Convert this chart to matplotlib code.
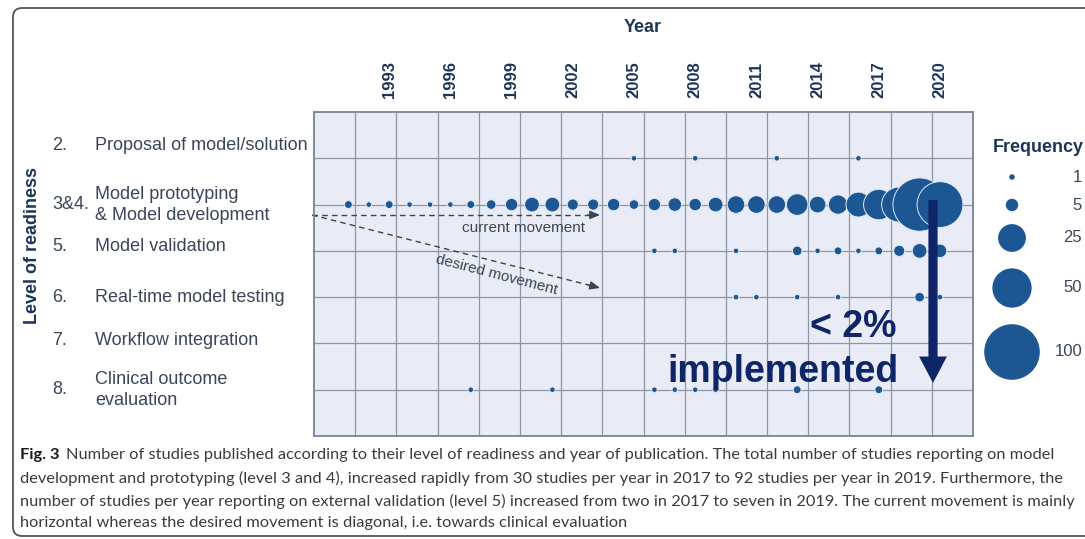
import numpy as np
import matplotlib
matplotlib.use('Agg')
import matplotlib.pyplot as plt
from matplotlib.patches import FancyBboxPatch
from matplotlib.transforms import blended_transform_factory

plt.rcParams['font.family'] = ['Liberation Sans', 'DejaVu Sans']

# ---- dados ----
niveis_num = ["2.", "3&4.", "5.", "6.", "7.", "8."]
niveis_txt = ["Proposal of model/solution",
              "Model prototyping\n& Model development",
              "Model validation",
              "Real-time model testing",
              "Workflow integration",
              "Clinical outcome\nevaluation"]

anos_n2 = [2005, 2008, 2012, 2016]
freq_n2 = [1, 1, 1, 1]

anos_n34 = list(range(1991, 2021))
freq_n34 = [2, 1, 2, 1, 1, 1, 2, 3, 5, 7, 7, 4, 4, 5, 3, 5, 6, 5, 7, 10,
            10, 10, 15, 9, 12, 20, 30, 40, 92, 68]

anos_n5 = [2006, 2007, 2010, 2013, 2014, 2015, 2016, 2017, 2018, 2019, 2020]
freq_n5 = [1, 1, 1, 3, 1, 2, 1, 2, 4, 7, 6]

anos_n6 = [2010, 2011, 2013, 2015, 2019, 2020]
freq_n6 = [1, 1, 1, 1, 3, 1]

anos_n7 = []
freq_n7 = []

anos_n8 = [1997, 2001, 2006, 2007, 2008, 2009, 2013, 2017]
freq_n8 = [1, 1, 1, 1, 1, 1, 2, 2]

anos_ticks = list(range(1993, 2021, 3))
legenda_freq = [1, 5, 25, 50, 100]

legenda_texto = [
    ("Fig. 3", "Number of studies published according to their level of readiness and year of publication. "
               "The total number of studies reporting on model"),
    (None, "development and prototyping (level 3 and 4), increased rapidly from 30 studies per year in 2017 "
           "to 92 studies per year in 2019. Furthermore, the"),
    (None, "number of studies per year reporting on external validation (level 5) increased from two in 2017 "
           "to seven in 2019. The current movement is mainly"),
    (None, "horizontal whereas the desired movement is diagonal, i.e. towards clinical evaluation"),
]

# ---- estilo ----
W, H = 1085, 539
AZUL = '#1c5793'
MARINHO = '#0e2667'
TXT = '#3a4658'
TITULO = '#1d3557'


def tamanho(n):
    # área proporcional à frequência
    return 16 * np.asarray(n, dtype=float)


fig = plt.figure(figsize=(W / 100, H / 100), dpi=100)
fig.patch.set_facecolor('white')

# eixo de sobreposição em pixels (moldura, legenda, rótulos)
ov = fig.add_axes([0, 0, 1, 1])
ov.set_xlim(0, W)
ov.set_ylim(H, 0)
ov.axis('off')
ov.patch.set_visible(False)
ov.set_zorder(0)

moldura = FancyBboxPatch((13, 8), 1200, 528, boxstyle='round,pad=0,rounding_size=9',
                         fc='none', ec='#555555', lw=1.3)
ov.add_patch(moldura)

# eixo principal
ax = fig.add_axes([314 / W, 1 - 436 / H, 659 / W, 324 / H])
ax.set_zorder(1)
ax.set_facecolor('#e9ecf6')
x0 = 2020 - (940 - 314) / 20.4
x1 = 2020 + (973 - 940) / 20.4
ax.set_xlim(x0, x1)
ax.set_ylim(7, 0)

ax.set_xticks(np.linspace(x0, x1, 17)[1:-1], minor=True)
ax.set_xticks(anos_ticks)
ax.set_xticklabels([str(a) for a in anos_ticks], rotation=90, fontsize=12,
                   fontweight='bold', color=TITULO)
ax.xaxis.tick_top()
ax.tick_params(axis='x', which='both', length=0, pad=10)
ax.set_yticks(range(1, 7))
ax.set_yticklabels([])
ax.tick_params(axis='y', length=0)
ax.grid(False)
ax.grid(which='minor', axis='x', color='#8d96a6', lw=0.9)
ax.grid(which='major', axis='y', color='#8d96a6', lw=0.9)
ax.set_axisbelow(True)
for sp in ax.spines.values():
    sp.set_color('#7a8494')
    sp.set_linewidth(1.3)

linhas = [(anos_n2, freq_n2), (anos_n34, freq_n34), (anos_n5, freq_n5),
          (anos_n6, freq_n6), (anos_n7, freq_n7), (anos_n8, freq_n8)]
for i, (anos, freq) in enumerate(linhas, 1):
    if not anos:
        continue
    ax.scatter(anos, [i] * len(anos), s=tamanho(freq), color=AZUL,
               edgecolors='#dfe8f4', linewidths=0.7, zorder=3, clip_on=False)

# setas tracejadas
y_seta = (215 - 112) / 46.3
x_fim = 2020 - (940 - 600) / 20.4
y_desej = (288 - 112) / 46.3
cinza = '#3a4350'
ax.plot([x0 - 0.1, x_fim - 0.3], [y_seta, y_seta], ls=(0, (4, 3)), color=cinza, lw=1, clip_on=False)
ax.plot([x0 - 0.1, x_fim - 0.3], [y_seta, y_desej - 0.3 / (x_fim - x0) * (y_desej - y_seta)],
        ls=(0, (4, 3)), color=cinza, lw=1, clip_on=False)
for yy in (y_seta, y_desej):
    ax.annotate('', xy=(x_fim, yy), xytext=(x_fim - 0.6, y_seta + (yy - y_seta) * (1 - 0.6 / (x_fim - x0))),
                arrowprops=dict(arrowstyle='-|>,head_length=0.6,head_width=0.25', color=cinza,
                                lw=1, shrinkA=0, shrinkB=0))
ax.text(2020 - (940 - 523) / 20.4, (228 - 112) / 46.3, 'current movement', ha='center', va='center',
        fontsize=11, color='#3a4658')
ax.text(2020 - (940 - 497) / 20.4, (275 - 112) / 46.3, 'desired movement', ha='center', va='center',
        fontsize=11, color='#3a4658', rotation=-14.5, rotation_mode='anchor')

# seta grande
xa = 2020 - (940 - 933) / 20.4
ax.annotate('', xy=(xa, (383 - 112) / 46.3), xytext=(xa, (200 - 112) / 46.3),
            arrowprops=dict(arrowstyle='simple,head_length=0.95,head_width=1.0,tail_width=0.33',
                            mutation_scale=20, color=MARINHO, lw=0, shrinkA=0, shrinkB=0),
            zorder=5, annotation_clip=False)
ax.text(2020 - (940 - 853) / 20.4, (327 - 112) / 46.3, '< 2%', ha='center', va='center',
        fontsize=27, fontweight='bold', color=MARINHO, zorder=6)
ax.text(2020 - (940 - 898) / 20.4, (372 - 112) / 46.3, 'implemented', ha='right', va='center',
        fontsize=27, fontweight='bold', color=MARINHO, zorder=6)

# rótulos das linhas
tr = blended_transform_factory(ov.transData, ax.transData)
desloc = [-0.28, 0, -0.1, 0, -0.07, 0]
for i, (num, txt) in enumerate(zip(niveis_num, niveis_txt), 1):
    fig.text(52, i + desloc[i - 1], num, transform=tr, ha='left', va='center',
             fontsize=13, color=TXT, linespacing=1.3)
    fig.text(95, i + desloc[i - 1], txt, transform=tr, ha='left', va='center',
             fontsize=13, color=TXT, linespacing=1.3)

ov.text(643, 28, 'Year', ha='center', va='center', fontsize=13, fontweight='bold', color=TITULO)
ov.text(33, 245, 'Level of readiness', ha='center', va='center', rotation=90,
        fontsize=13, fontweight='bold', color=TITULO)

# legenda de frequência
ov.text(1038, 147, 'Frequency', ha='center', va='center', fontsize=13, fontweight='bold', color=TITULO)
y_leg = [177, 205, 238, 288, 352]
ov.scatter([1012] * len(legenda_freq), y_leg, s=tamanho(legenda_freq), color=AZUL, lw=0)
for yy, n in zip(y_leg, legenda_freq):
    ov.text(1082, yy, str(n), ha='right', va='center', fontsize=12, color=TXT)

# legenda da figura
y_cap = [455, 478, 501, 523]
for (negrito, resto), yy in zip(legenda_texto, y_cap):
    if negrito:
        t = ov.text(20, yy, negrito, ha='left', va='center', fontsize=11.8, fontweight='bold',
                    family='Lato', color='#1a1a1a')
        ov.annotate(resto, xy=(1, 0), xycoords=t, xytext=(5, 0), textcoords='offset points',
                    ha='left', va='bottom', fontsize=11.8, family='Lato', color='#3b3b3b')
    else:
        ov.text(20, yy, resto, ha='left', va='center', fontsize=11.8, family='Lato', color='#3b3b3b')

fig.savefig('out.png', dpi=100)
